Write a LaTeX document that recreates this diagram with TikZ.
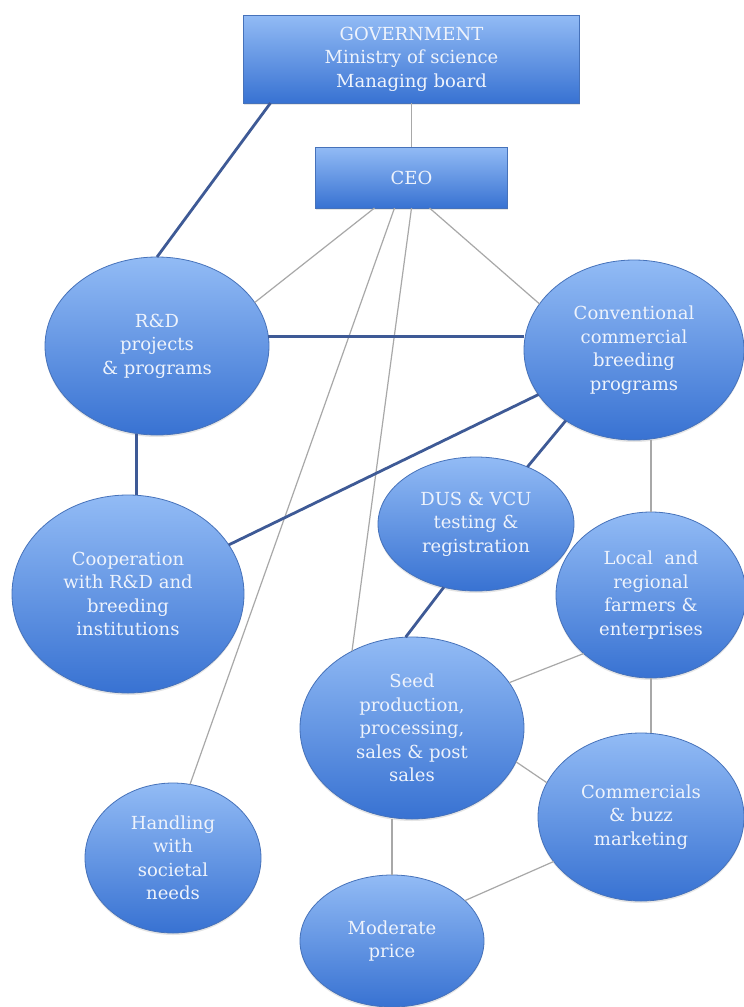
\documentclass[tikz,border=0pt]{standalone}
\usepackage{fontspec}
\setmainfont{DejaVu Serif}
\usetikzlibrary{shapes.geometric,shadows,calc}

\definecolor{boxtop}{RGB}{146,187,245}
\definecolor{boxbot}{RGB}{56,114,210}
\definecolor{boxedge}{RGB}{70,114,186}
\definecolor{linkdark}{RGB}{62,90,150}
\definecolor{linklight}{RGB}{168,168,168}
\definecolor{labeltext}{RGB}{238,243,252}

\tikzset{
  shaded/.style={draw=boxedge, line width=0.8pt, top color=boxtop, bottom color=boxbot,
    inner sep=0pt, outer sep=0pt, align=center, text=labeltext,
    font=\fontsize{18}{23.5}\selectfont,
    drop shadow={opacity=0.2, shadow xshift=0pt, shadow yshift=-2pt}},
  blob/.style={shaded, ellipse},
  panel/.style={shaded, rectangle},
  strong/.style={draw=linkdark, line width=2.8pt},
  weak/.style={draw=linklight, line width=1.2pt},
}

\begin{document}
\begin{tikzpicture}[x=1pt, y=-1pt]
\useasboundingbox[fill=white] (0,0) rectangle (744,1007);

% boxes at the top
\node[panel, minimum width=336pt, minimum height=88pt] (gov) at (411.5,59)
  {GOVERNMENT\\Ministry of science\\Managing board};
\node[panel, minimum width=192pt, minimum height=61pt] (ceo) at (411.5,177.5) {CEO};

% activity ellipses
\node[blob, minimum width=224pt, minimum height=178pt] (rd) at (157,346)
  {R\&D\\projects\\\& programs};
\node[blob, minimum width=220pt, minimum height=180pt] (conv) at (634,350)
  {Conventional\\commercial\\breeding\\programs};
\node[blob, minimum width=232pt, minimum height=198pt] (coop) at (128,594)
  {Cooperation\\with R\&D and\\breeding\\institutions};
\node[blob, minimum width=196pt, minimum height=134pt] (dus) at (476,524)
  {DUS \& VCU\\testing \&\\registration};
\node[blob, minimum width=190pt, minimum height=166pt] (local) at (651,595)
  {Local\ \ and\\regional\\farmers \&\\enterprises};
\node[blob, minimum width=224pt, minimum height=182pt] (seed) at (412,728)
  {Seed\\production,\\processing,\\sales \& post\\sales};
\node[blob, minimum width=176pt, minimum height=150pt] (hand) at (173,858)
  {Handling\\with\\societal\\needs};
\node[blob, minimum width=206pt, minimum height=168pt] (comm) at (641,817)
  {Commercials\\\& buzz\\marketing};
\node[blob, minimum width=184pt, minimum height=132pt] (mod) at (392,941)
  {Moderate\\price};

% links
\draw[weak] (gov.south) -- (ceo.north);
\draw[strong] ($(gov.south west)+(27,0)$) -- (rd.north);
\draw[weak] ($(ceo.south)+(-37,0)$) -- (rd.24);
\draw[weak] ($(ceo.south)+(-17,0)$) -- (hand.77);
\draw[weak] (ceo.south) -- (seed.128);
\draw[weak] ($(ceo.south)+(18,0)$) -- (conv.154);
\draw[strong] (rd.5) -- (rd.5 -| conv.west);
\draw[strong] (conv.205) -- (coop.26);
\draw[strong] (conv.226) -- (dus.48);
\draw[weak] (conv.south -| local.north) -- (local.north);
\draw[strong] (rd.257) -- (rd.257 |- coop.north);
\draw[strong] (dus.243) -- (seed.94);
\draw[weak] (seed.25) -- (local.221);
\draw[weak] (local.south) -- (local.south |- comm.north);
\draw[weak] (seed.-18) -- (comm.160);
\draw[weak] (mod.north |- seed.south) -- (mod.north);
\draw[weak] (mod.29) -- (comm.207);
\end{tikzpicture}
\end{document}
